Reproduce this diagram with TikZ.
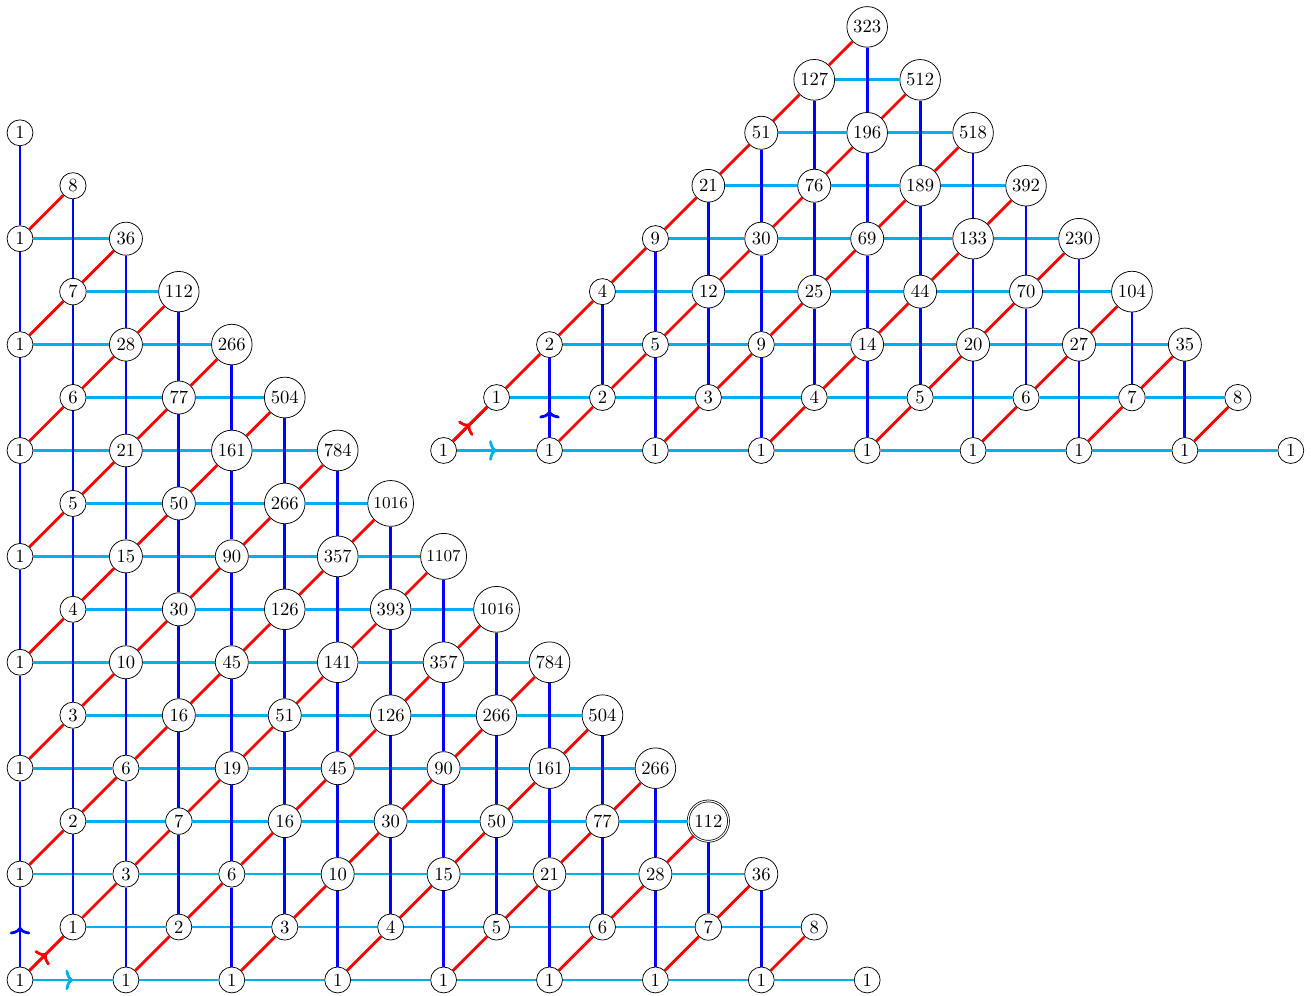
\documentclass[tikz,border=0pt]{standalone}
\usetikzlibrary{arrows.meta,decorations.markings}

\definecolor{stepcyan}{RGB}{0,174,239}

\tikzset{
    num/.style={circle, draw, fill=white, inner sep=2pt},
    hstep/.style={stepcyan, line width=1.5pt},
    vstep/.style={blue, line width=1.5pt},
    dstep/.style={red, line width=1.5pt},
    midarrow/.style={postaction={decorate}, decoration={markings,
        mark=at position #1 with {\arrow{>}}}},
    midarrow/.default=0.5
}

\begin{document}
\begin{tikzpicture}[x=1cm,y=1cm,>={Computer Modern Rightarrow[width=11pt,length=4pt]}]

    \useasboundingbox (-0.378,-0.302) rectangle (24.382,18.508);

    \foreach \i/\j/\v in {0/0/1,2/0/1,4/0/1,6/0/1,8/0/1,10/0/1,12/0/1,14/0/1,16/0/1,
        1/1/1,3/1/2,5/1/3,7/1/4,9/1/5,11/1/6,13/1/7,15/1/8,
        0/2/1,2/2/3,4/2/6,6/2/10,8/2/15,10/2/21,12/2/28,14/2/36,
        1/3/2,3/3/7,5/3/16,7/3/30,9/3/50,11/3/77,
        0/4/1,2/4/6,4/4/19,6/4/45,8/4/90,10/4/161,12/4/266,
        1/5/3,3/5/16,5/5/51,7/5/126,9/5/266,11/5/504,
        0/6/1,2/6/10,4/6/45,6/6/141,8/6/357,10/6/784,
        1/7/4,3/7/30,5/7/126,7/7/393,
        0/8/1,2/8/15,4/8/90,6/8/357,
        1/9/5,3/9/50,5/9/266,
        0/10/1,2/10/21,4/10/161,6/10/784,
        1/11/6,3/11/77,5/11/504,
        0/12/1,2/12/28,4/12/266,
        1/13/7,3/13/112,
        0/14/1,2/14/36,
        1/15/8,
        0/16/1}{
        \node[num] (L-\i-\j) at (\i,\j) {\v};
    }

    \foreach \i/\j/\v in {9/7/1016,8/8/1107,7/9/1016}{
        \node[num, font=\small] (L-\i-\j) at (\i,\j) {\v};
    }

    \node[num, double] (L-13-3) at (13,3) {112};

    \begin{scope}[xshift=8cm, yshift=10cm]
        \foreach \a/\b/\v in {0/0/1,2/0/1,4/0/1,6/0/1,8/0/1,10/0/1,12/0/1,14/0/1,16/0/1,
            1/1/1,3/1/2,5/1/3,7/1/4,9/1/5,11/1/6,13/1/7,15/1/8,
            2/2/2,4/2/5,6/2/9,8/2/14,10/2/20,12/2/27,14/2/35,
            3/3/4,5/3/12,7/3/25,9/3/44,11/3/70,13/3/104,
            4/4/9,6/4/30,8/4/69,10/4/133,12/4/230,
            5/5/21,7/5/76,9/5/189,11/5/392,
            6/6/51,8/6/196,10/6/518,
            7/7/127,9/7/512,
            8/8/323}{
            \node[num] (R-\a-\b) at (\a,\b) {\v};
        }
    \end{scope}

    \foreach \s in {0,2,...,14}{
        \foreach \i in {0,...,\s}{
            \pgfmathtruncatemacro{\j}{\s-\i}
            \pgfmathtruncatemacro{\ii}{\i+2}
            \draw[hstep] (L-\i-\j) -- (L-\ii-\j);
        }
    }

    \foreach \s in {0,2,...,14}{
        \foreach \i in {0,...,\s}{
            \pgfmathtruncatemacro{\j}{\s-\i}
            \pgfmathtruncatemacro{\jj}{\j+2}
            \draw[vstep] (L-\i-\j) -- (L-\i-\jj);
        }
    }

    \foreach \s in {0,2,...,14}{
        \foreach \i in {0,...,\s}{
            \pgfmathtruncatemacro{\j}{\s-\i}
            \pgfmathtruncatemacro{\ia}{\i+1}
            \pgfmathtruncatemacro{\ja}{\j+1}
            \draw[dstep] (L-\i-\j) -- (L-\ia-\ja);
        }
    }

    \foreach \s in {0,2,...,14}{
        \pgfmathtruncatemacro{\h}{\s/2}
        \foreach \b in {0,...,\h}{
            \pgfmathtruncatemacro{\a}{\s-\b}
            \pgfmathtruncatemacro{\aa}{\a+2}
            \draw[hstep] (R-\a-\b) -- (R-\aa-\b);
        }
    }

    \foreach \s in {0,2,...,14}{
        \pgfmathtruncatemacro{\h}{\s/2}
        \foreach \b in {0,...,\h}{
            \pgfmathtruncatemacro{\a}{\s-\b}
            \pgfmathtruncatemacro{\bb}{\b+2}
            \ifnum\a>\b
                \draw[vstep] (R-\a-\b) -- (R-\a-\bb);
            \fi
        }
    }

    \foreach \s in {0,2,...,14}{
        \pgfmathtruncatemacro{\h}{\s/2}
        \foreach \b in {0,...,\h}{
            \pgfmathtruncatemacro{\a}{\s-\b}
            \pgfmathtruncatemacro{\ab}{\a+1}
            \pgfmathtruncatemacro{\bb}{\b+1}
            \draw[dstep] (R-\a-\b) -- (R-\ab-\bb);
        }
    }

    \draw[hstep, midarrow] (L-0-0) -- (L-2-0);
    \draw[vstep, midarrow] (L-0-0) -- (L-0-2);
    \draw[dstep, midarrow] (L-0-0) -- (L-1-1);

    \draw[hstep, midarrow] (R-0-0) -- (R-2-0);
    \draw[vstep, midarrow=0.33] (R-2-0) -- (R-2-2);
    \draw[dstep, midarrow] (R-0-0) -- (R-1-1);

\end{tikzpicture}
\end{document}
